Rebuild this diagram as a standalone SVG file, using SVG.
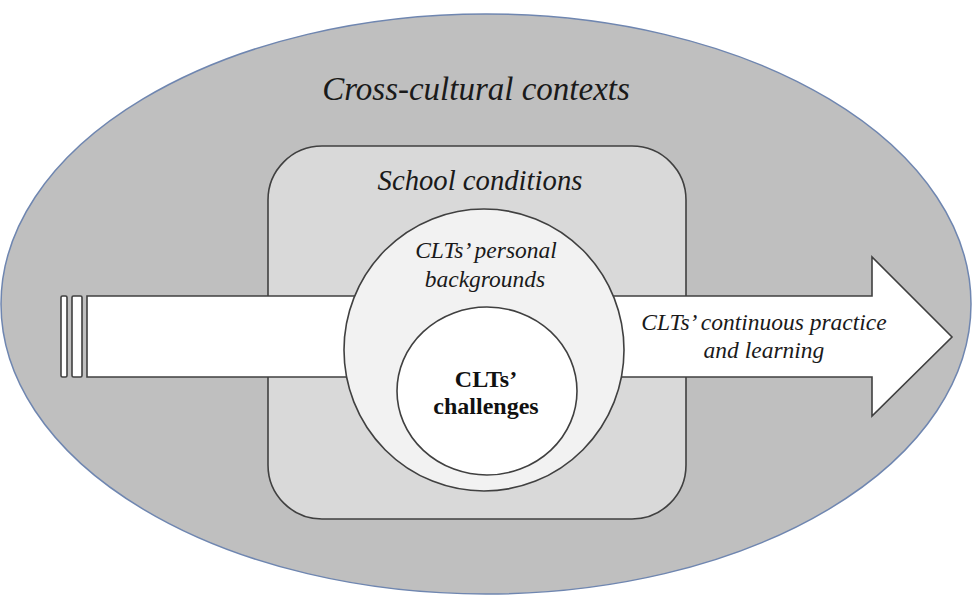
<svg xmlns="http://www.w3.org/2000/svg" width="974" height="596" viewBox="0 0 974 596">
  <style>
    .line { stroke: #404040; stroke-width: 1.6; }
    .it { font-family: "Liberation Serif", "Times New Roman", serif; font-style: italic; fill: #1a1a1a; text-anchor: middle; }
    .bd { font-family: "Liberation Serif", "Times New Roman", serif; font-weight: bold; fill: #111; text-anchor: middle; }
  </style>
  <rect width="974" height="596" fill="#ffffff"/>

  <g id="cross-cultural-contexts">
    <ellipse cx="486" cy="304" rx="485" ry="290" fill="#bfbfbf" stroke="#6f86b0" stroke-width="1.5"/>
    <text class="it" x="476" y="100" font-size="33">Cross-cultural contexts</text>
  </g>

  <g id="school-conditions">
    <rect class="line" x="268" y="146" width="418" height="373" rx="54" ry="54" fill="#d9d9d9"/>
    <text class="it" x="480" y="190" font-size="28.7">School conditions</text>
  </g>

  <g id="connectors">
    <!-- broken tail stripes -->
    <rect class="line" x="61" y="296" width="6" height="81" rx="1.5" fill="#ffffff"/>
    <rect class="line" x="72" y="296" width="10" height="81" rx="1.5" fill="#ffffff"/>
    <!-- main arrow -->
    <path class="line" d="M87,296 H872 V257 L952,337 L872,416 V377 H87 Z" fill="#ffffff" stroke-linejoin="miter"/>
  </g>

  <g id="personal-backgrounds">
    <ellipse class="line" cx="484" cy="350" rx="140" ry="141" fill="#f2f2f2"/>
    <text class="it" x="486" y="258" font-size="23.5">CLTs’ personal</text>
    <text class="it" x="485" y="287" font-size="23.5">backgrounds</text>
  </g>

  <g id="challenges">
    <ellipse class="line" cx="487" cy="391" rx="90" ry="84" fill="#ffffff"/>
    <text class="bd" x="486" y="387" font-size="24">CLTs’</text>
    <text class="bd" x="486" y="414" font-size="24">challenges</text>
  </g>

  <g id="practice-label">
    <text class="it" x="764" y="330" font-size="23.5">CLTs’ continuous practice</text>
    <text class="it" x="764" y="358" font-size="23.5">and learning</text>
  </g>
</svg>
